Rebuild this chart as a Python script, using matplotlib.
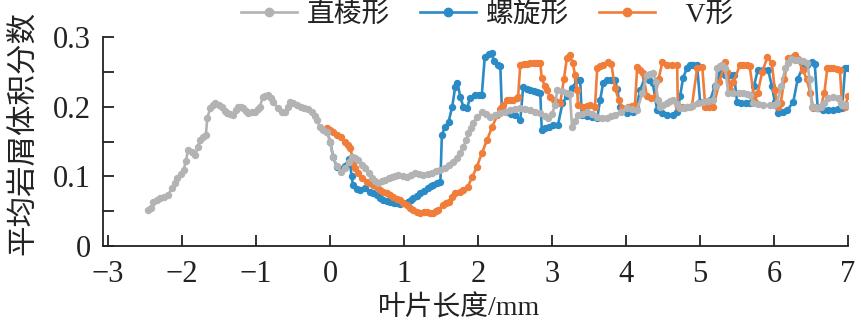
import matplotlib
matplotlib.use("Agg")
import matplotlib.pyplot as plt
from matplotlib.ticker import MultipleLocator, FormatStrFormatter

# Latin glyphs in serif, CJK falls through to Noto
plt.rcParams['font.family'] = ['Liberation Serif', 'Noto Sans CJK SC', 'DejaVu Sans']
plt.rcParams['axes.unicode_minus'] = True

# upstream region (before the blade), straight-edge blade
up_x = [-2.46, -2.42, -2.39, -2.34, -2.30, -2.25, -2.19, -2.14, -2.10, -2.07,
        -2.02, -1.98, -1.95, -1.92, -1.87, -1.82, -1.79, -1.76, -1.72, -1.68,
        -1.66, -1.62, -1.58, -1.55, -1.50, -1.46, -1.42, -1.39, -1.35, -1.31,
        -1.27, -1.24, -1.21, -1.18, -1.14, -1.11, -1.06, -1.01, -0.98, -0.95,
        -0.91, -0.88, -0.84, -0.80, -0.77, -0.71, -0.65, -0.61, -0.57, -0.54,
        -0.50, -0.45, -0.40, -0.36, -0.30, -0.24, -0.21, -0.18, -0.14, -0.09,
        -0.04]
up_y = [0.052, 0.055, 0.063, 0.066, 0.069, 0.071, 0.073, 0.083, 0.090, 0.098,
        0.104, 0.109, 0.122, 0.138, 0.135, 0.131, 0.142, 0.152, 0.156, 0.159,
        0.184, 0.198, 0.203, 0.205, 0.203, 0.200, 0.194, 0.191, 0.190, 0.188,
        0.195, 0.200, 0.200, 0.198, 0.194, 0.191, 0.193, 0.192, 0.196, 0.200,
        0.214, 0.216, 0.217, 0.212, 0.207, 0.198, 0.192, 0.192, 0.200, 0.207,
        0.205, 0.202, 0.200, 0.198, 0.196, 0.192, 0.187, 0.181, 0.171, 0.167,
        0.164]

# 直棱形
straight_x = up_x + [
    0.00, 0.04, 0.09, 0.14, 0.20, 0.25, 0.30, 0.34, 0.38, 0.43,
    0.47, 0.52, 0.57, 0.61, 0.65, 0.70, 0.74, 0.79, 0.84, 0.88,
    0.92, 0.98, 1.04, 1.09, 1.15, 1.20, 1.26, 1.32, 1.38, 1.43,
    1.49, 1.55, 1.60, 1.66, 1.71, 1.76, 1.80, 1.84, 1.87, 1.90,
    1.93, 1.99, 2.05, 2.10, 2.16, 2.23, 2.30, 2.36, 2.43, 2.50,
    2.57, 2.63, 2.70, 2.77, 2.84, 2.90, 2.95, 3.00, 3.04, 3.07,
    3.13, 3.20, 3.24, 3.27, 3.31, 3.35, 3.41, 3.47, 3.54, 3.61,
    3.68, 3.74, 3.80, 3.85, 3.93, 4.01, 4.08, 4.15, 4.22, 4.28,
    4.33, 4.37, 4.40, 4.43, 4.46, 4.50, 4.55, 4.60, 4.64, 4.69,
    4.73, 4.78, 4.82, 4.87, 4.91, 4.97, 5.04, 5.11, 5.18, 5.21,
    5.23, 5.27, 5.30, 5.34, 5.38, 5.45, 5.52, 5.58, 5.64, 5.68,
    5.72, 5.78, 5.85, 5.95, 6.00, 6.04, 6.10, 6.15, 6.19, 6.23,
    6.28, 6.32, 6.39, 6.45, 6.48, 6.51, 6.55, 6.58, 6.63, 6.68,
    6.73, 6.80, 6.86, 6.90, 6.92, 6.96, 6.99]
straight_y = up_y + [
    0.150, 0.128, 0.115, 0.106, 0.112, 0.120, 0.128, 0.126, 0.123, 0.117,
    0.112, 0.105, 0.098, 0.094, 0.090, 0.093, 0.095, 0.097, 0.099, 0.101,
    0.102, 0.100, 0.099, 0.102, 0.105, 0.104, 0.102, 0.104, 0.105, 0.107,
    0.109, 0.112, 0.116, 0.121, 0.126, 0.134, 0.142, 0.152, 0.162, 0.170,
    0.177, 0.185, 0.192, 0.190, 0.185, 0.188, 0.191, 0.193, 0.195, 0.197,
    0.198, 0.197, 0.195, 0.193, 0.191, 0.187, 0.184, 0.190, 0.202, 0.224,
    0.222, 0.220, 0.218, 0.171, 0.180, 0.188, 0.190, 0.192, 0.189, 0.185,
    0.184, 0.184, 0.186, 0.188, 0.193, 0.198, 0.197, 0.195, 0.220, 0.245,
    0.247, 0.248, 0.235, 0.210, 0.200, 0.202, 0.205, 0.208, 0.210, 0.204,
    0.198, 0.198, 0.199, 0.200, 0.202, 0.205, 0.207, 0.208, 0.210, 0.230,
    0.255, 0.258, 0.260, 0.255, 0.220, 0.220, 0.220, 0.220, 0.218, 0.217,
    0.205, 0.204, 0.203, 0.202, 0.203, 0.205, 0.230, 0.255, 0.263, 0.268,
    0.267, 0.267, 0.265, 0.263, 0.240, 0.200, 0.199, 0.198, 0.200, 0.205,
    0.212, 0.214, 0.212, 0.205, 0.202, 0.202, 0.202]

# 螺旋形
spiral_x = [
    -0.04, 0.00, 0.04, 0.09, 0.14, 0.20, 0.25, 0.27, 0.29, 0.31,
    0.36, 0.41, 0.47, 0.54, 0.58, 0.63, 0.68, 0.72, 0.77, 0.81,
    0.86, 0.90, 0.95, 0.99, 1.05, 1.09, 1.12, 1.17, 1.22, 1.27,
    1.32, 1.36, 1.39, 1.44, 1.49, 1.51, 1.55, 1.60, 1.65, 1.69,
    1.72, 1.76, 1.80, 1.85, 1.89, 1.96, 2.01, 2.05, 2.09, 2.15,
    2.19, 2.21, 2.27, 2.30, 2.32, 2.39, 2.45, 2.50, 2.57, 2.61,
    2.66, 2.70, 2.75, 2.80, 2.84, 2.86, 2.91, 2.96, 3.01, 3.08,
    3.14, 3.20, 3.27, 3.34, 3.38, 3.40, 3.47, 3.54, 3.61, 3.65,
    3.69, 3.74, 3.80, 3.85, 3.88, 3.92, 3.97, 4.01, 4.09, 4.14,
    4.19, 4.26, 4.31, 4.36, 4.42, 4.49, 4.55, 4.64, 4.69, 4.73,
    4.77, 4.82, 4.86, 4.91, 4.96, 5.00, 5.05, 5.09, 5.14, 5.20,
    5.27, 5.34, 5.41, 5.46, 5.50, 5.55, 5.62, 5.68, 5.73, 5.78,
    5.85, 5.92, 5.97, 6.01, 6.05, 6.12, 6.18, 6.26, 6.32, 6.39,
    6.45, 6.51, 6.55, 6.59, 6.66, 6.73, 6.80, 6.86, 6.92, 6.96,
    7.00]
spiral_y = [
    0.164, 0.150, 0.128, 0.113, 0.110, 0.115, 0.125, 0.118, 0.100, 0.087,
    0.082, 0.080, 0.083, 0.078, 0.076, 0.073, 0.069, 0.066, 0.064, 0.063,
    0.062, 0.062, 0.061, 0.062, 0.063, 0.066, 0.069, 0.072, 0.076, 0.079,
    0.083, 0.086, 0.088, 0.090, 0.092, 0.159, 0.171, 0.178, 0.200, 0.228,
    0.234, 0.214, 0.200, 0.198, 0.212, 0.217, 0.217, 0.217, 0.272, 0.275,
    0.277, 0.265, 0.260, 0.258, 0.200, 0.192, 0.190, 0.188, 0.181, 0.229,
    0.226, 0.224, 0.222, 0.221, 0.220, 0.167, 0.169, 0.171, 0.174, 0.174,
    0.205, 0.215, 0.227, 0.238, 0.238, 0.188, 0.187, 0.185, 0.184, 0.210,
    0.234, 0.238, 0.238, 0.238, 0.225, 0.200, 0.195, 0.191, 0.192, 0.200,
    0.224, 0.243, 0.238, 0.234, 0.195, 0.191, 0.188, 0.188, 0.192, 0.215,
    0.241, 0.255, 0.260, 0.260, 0.260, 0.207, 0.207, 0.207, 0.210, 0.230,
    0.248, 0.246, 0.245, 0.245, 0.207, 0.206, 0.205, 0.205, 0.230, 0.253,
    0.253, 0.253, 0.230, 0.207, 0.191, 0.193, 0.195, 0.207, 0.240, 0.257,
    0.260, 0.264, 0.262, 0.198, 0.195, 0.195, 0.195, 0.196, 0.198, 0.255,
    0.255]

# V形
v_x = [
    -0.04, 0.00, 0.04, 0.09, 0.14, 0.20, 0.24, 0.27, 0.30, 0.31,
    0.34, 0.38, 0.43, 0.50, 0.54, 0.58, 0.63, 0.68, 0.72, 0.77,
    0.81, 0.85, 0.90, 0.95, 0.99, 1.04, 1.08, 1.12, 1.17, 1.22,
    1.27, 1.31, 1.35, 1.39, 1.43, 1.46, 1.53, 1.57, 1.60, 1.65,
    1.69, 1.75, 1.80, 1.86, 1.92, 1.98, 2.05, 2.12, 2.19, 2.26,
    2.30, 2.34, 2.39, 2.43, 2.47, 2.52, 2.54, 2.57, 2.62, 2.66,
    2.70, 2.75, 2.80, 2.84, 2.86, 2.90, 2.93, 2.97, 3.02, 3.07,
    3.11, 3.16, 3.20, 3.24, 3.28, 3.31, 3.34, 3.35, 3.42, 3.47,
    3.51, 3.58, 3.61, 3.65, 3.69, 3.76, 3.80, 3.85, 3.90, 3.95,
    4.03, 4.08, 4.12, 4.15, 4.19, 4.23, 4.28, 4.34, 4.39, 4.44,
    4.49, 4.55, 4.62, 4.69, 4.70, 4.76, 4.82, 4.89, 4.96, 5.03,
    5.07, 5.12, 5.18, 5.26, 5.34, 5.37, 5.41, 5.45, 5.54, 5.58,
    5.63, 5.67, 5.74, 5.78, 5.84, 5.91, 5.97, 6.01, 6.05, 6.09,
    6.14, 6.19, 6.25, 6.28, 6.32, 6.39, 6.44, 6.49, 6.53, 6.58,
    6.63, 6.68, 6.72, 6.76, 6.80, 6.85, 6.89, 6.92, 6.96, 7.00]
v_y = [
    0.169, 0.167, 0.164, 0.160, 0.157, 0.149, 0.145, 0.141, 0.128, 0.119,
    0.112, 0.105, 0.098, 0.092, 0.090, 0.088, 0.084, 0.080, 0.078, 0.076,
    0.073, 0.070, 0.068, 0.066, 0.062, 0.059, 0.055, 0.052, 0.049, 0.047,
    0.049, 0.049, 0.048, 0.047, 0.050, 0.052, 0.059, 0.062, 0.063, 0.070,
    0.076, 0.078, 0.080, 0.085, 0.099, 0.113, 0.133, 0.152, 0.171, 0.188,
    0.197, 0.202, 0.210, 0.210, 0.210, 0.212, 0.214, 0.260, 0.262, 0.262,
    0.263, 0.263, 0.263, 0.263, 0.241, 0.230, 0.224, 0.214, 0.210, 0.207,
    0.205, 0.240, 0.270, 0.274, 0.263, 0.245, 0.224, 0.202, 0.200, 0.201,
    0.202, 0.200, 0.255, 0.258, 0.260, 0.264, 0.262, 0.227, 0.210, 0.198,
    0.200, 0.201, 0.202, 0.257, 0.253, 0.248, 0.215, 0.212, 0.214, 0.240,
    0.264, 0.260, 0.260, 0.260, 0.200, 0.200, 0.200, 0.201, 0.255, 0.257,
    0.200, 0.200, 0.200, 0.235, 0.264, 0.250, 0.224, 0.235, 0.260, 0.260,
    0.260, 0.258, 0.207, 0.220, 0.250, 0.271, 0.263, 0.224, 0.200, 0.205,
    0.240, 0.270, 0.272, 0.274, 0.268, 0.253, 0.240, 0.220, 0.198, 0.198,
    0.199, 0.220, 0.255, 0.255, 0.255, 0.254, 0.253, 0.202, 0.200, 0.215]

GRAY = '#b3b3b3'
BLUE = '#2a8bc6'
ORANGE = '#f07d3a'
INK = '#222222'

fig = plt.figure(figsize=(8.62, 3.28), dpi=100)
ax = fig.add_axes([0.1195, 0.25, 0.8643, 0.637])

style = dict(marker='o', markersize=4.3, linewidth=1.9)
l_spiral, = ax.plot(spiral_x, spiral_y, color=BLUE, label='螺旋形', zorder=2, **style)
l_v, = ax.plot(v_x, v_y, color=ORANGE, label='   V形', zorder=3, **style)
l_str, = ax.plot(straight_x, straight_y, color=GRAY, label='直棱形', zorder=4, **style)

ax.set_xlim(-3.07, 7)
ax.set_ylim(0, 0.3)
ax.xaxis.set_major_locator(MultipleLocator(1))
ax.yaxis.set_major_locator(MultipleLocator(0.1))
ax.yaxis.set_minor_locator(MultipleLocator(0.05))
ax.yaxis.set_major_formatter(FormatStrFormatter('%g'))

for s in ['top', 'right']:
    ax.spines[s].set_visible(False)
for s in ['left', 'bottom']:
    ax.spines[s].set_linewidth(1.3)
    ax.spines[s].set_color(INK)

ax.tick_params(which='both', direction='in', length=8, width=1.3, color=INK)
ax.tick_params(axis='y', pad=9)
ax.tick_params(axis='x', pad=10)
for lab in ax.get_xticklabels() + ax.get_yticklabels():
    lab.set_fontsize(22)
    lab.set_color(INK)

ax.set_xlabel('叶片长度/mm', fontsize=20, color=INK)
ax.xaxis.set_label_coords((459 - 103) / 745, -0.235)
fig.text(23 / 862, 0.595, '平均岩屑体积分数', rotation=90, ha='center', va='center',
         fontsize=22, color=INK)

ax.legend(handles=[l_str, l_spiral, l_v], loc='center', ncol=3,
          bbox_to_anchor=(487 / 862, 1 - 15 / 328), bbox_transform=fig.transFigure,
          frameon=False, fontsize=20, handlelength=2.0, handletextpad=0.35,
          columnspacing=1.1, borderaxespad=0, labelcolor=INK, markerscale=1.4)

fig.savefig('out.png', dpi=100)
